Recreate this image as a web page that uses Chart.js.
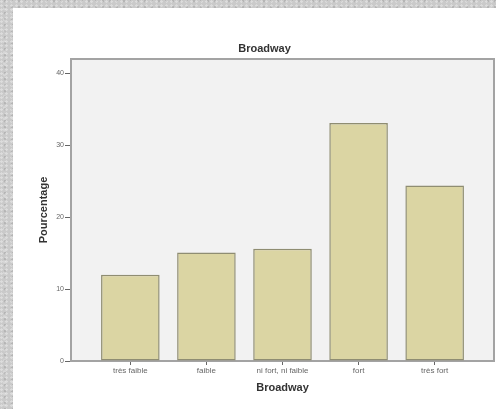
<!DOCTYPE html>
<html>
<head>
<meta charset="utf-8">
<script src="https://cdn.jsdelivr.net/npm/chart.js@4"></script>
<style>
  body {
    margin: 0;
    width: 496px;
    height: 409px;
    overflow: hidden;
    background-color: #cacaca;
    background-image:
      radial-gradient(circle at 30% 40%, rgba(255,255,255,0.35) 0 1px, transparent 1.5px),
      radial-gradient(circle at 70% 20%, rgba(0,0,0,0.10) 0 1px, transparent 1.5px),
      radial-gradient(circle at 50% 80%, rgba(255,255,255,0.25) 0 1px, transparent 2px);
    background-size: 5px 4px, 7px 6px, 9px 11px;
  }
  #panel { position: absolute; left: 13px; top: 8px; width: 501px; height: 401px; background: #fff; }
</style>
</head>
<body>
<div id="panel"><canvas id="chart" width="501" height="401"></canvas></div>
<script>
// data
const categories = ['très faible', 'faible', 'ni fort, ni faible', 'fort', 'très fort'];
const percentages = [12.0, 15.1, 15.6, 33.1, 24.4];
const yTicks = [0, 10, 20, 30, 40];

const fontFamily = '"Liberation Sans", Arial, sans-serif';

// grey plot area with a frame round it
const plotFrame = {
    id: 'plotFrame',
    beforeDatasetsDraw(chart) {
        const { ctx, chartArea: a } = chart;
        ctx.save();
        ctx.fillStyle = '#f2f2f2';
        ctx.fillRect(a.left, a.top, a.right - a.left, a.bottom - a.top);
        ctx.strokeStyle = '#a3a3a3';
        ctx.lineWidth = 2;
        ctx.strokeRect(a.left, a.top, a.right - a.left, a.bottom - a.top);
        ctx.restore();
    }
};

new Chart(document.getElementById('chart').getContext('2d'), {
    type: 'bar',
    data: {
        datasets: [{
            label: 'Pourcentage',
            data: percentages.map((v, i) => ({ x: i + 1, y: v })),
            backgroundColor: '#dbd5a3',
            borderColor: '#8f8d72',
            borderWidth: 1.5,
            borderSkipped: false,
            categoryPercentage: 1,
            barPercentage: 0.77
        }]
    },
    options: {
        responsive: false,
        animation: false,
        layout: { padding: { left: 22, right: 20, top: 34.4, bottom: 0 } },
        plugins: {
            legend: { display: false },
            tooltip: { enabled: false },
            title: {
                display: true,
                text: 'Broadway',
                color: '#333',
                font: { family: fontFamily, size: 11, weight: 'bold' },
                padding: { top: 0, bottom: 3.4 }
            }
        },
        scales: {
            x: {
                type: 'linear',
                min: 0.22,
                max: 5.78,
                offset: false,
                afterFit: s => { s.height = 48; },
                afterBuildTicks: s => { s.ticks = categories.map((c, i) => ({ value: i + 1 })); },
                ticks: {
                    callback: v => categories[v - 1],
                    color: '#666',
                    font: { family: fontFamily, size: 8 },
                    padding: 1,
                    maxRotation: 0,
                    autoSkip: false
                },
                grid: { offset: false, drawOnChartArea: false, drawTicks: true, tickLength: 4, color: '#666' },
                border: { display: false },
                title: {
                    display: true,
                    text: 'Broadway',
                    color: '#333',
                    font: { family: fontFamily, size: 11, weight: 'bold' },
                    padding: { top: 0, bottom: 14.4 }
                }
            },
            y: {
                min: 0,
                max: 42,
                afterFit: s => { s.width = 36; },
                afterBuildTicks: s => { s.ticks = yTicks.map(v => ({ value: v })); },
                ticks: {
                    color: '#666',
                    font: { family: fontFamily, size: 7 },
                    padding: 1
                },
                grid: { drawOnChartArea: false, drawTicks: true, tickLength: 6, color: '#666' },
                border: { display: false },
                title: {
                    display: true,
                    text: 'Pourcentage',
                    color: '#333',
                    font: { family: fontFamily, size: 11, weight: 'bold' },
                    padding: { top: 2.4, bottom: 0 }
                }
            }
        }
    },
    plugins: [plotFrame]
});
</script>
</body>
</html>
